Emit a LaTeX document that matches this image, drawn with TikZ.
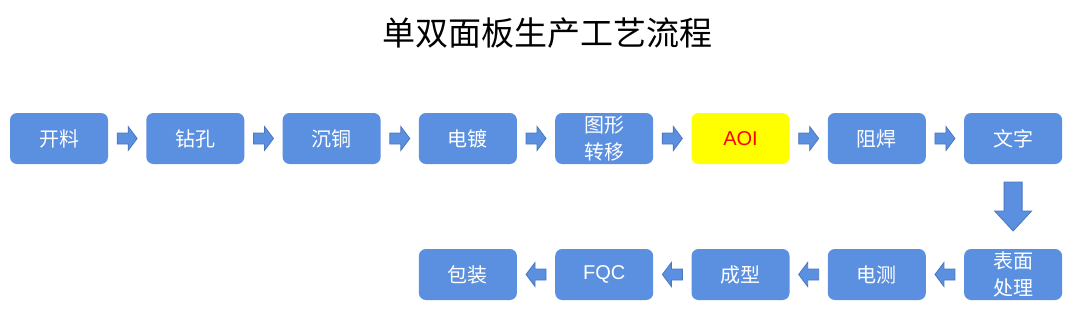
\documentclass[tikz,border=0pt]{standalone}
\usepackage{fontspec}
\setmainfont{Liberation Sans}
\newfontfamily\cjk{Noto Sans CJK SC}
\usetikzlibrary{calc}
\definecolor{boxblue}{HTML}{5B8FDF}
\definecolor{arrowline}{HTML}{4A78C2}
\definecolor{aoiyellow}{HTML}{FFFF00}
\tikzset{
  procbox/.style={draw=none, fill=boxblue, rounded corners=7pt, minimum width=98pt, minimum height=51pt, inner sep=0pt, text=white, align=center, font=\cjk\fontsize{20}{27}\selectfont},
  aoibox/.style={procbox, fill=aoiyellow, text=red, font=\fontsize{20}{27}\selectfont},
  latinbox/.style={procbox, font=\fontsize{20}{27}\selectfont},
  blockarrow/.style={fill=boxblue, draw=arrowline, line width=0.8pt, line join=miter}
}
\begin{document}
\begin{tikzpicture}[x=1pt,y=-1pt]
\useasboundingbox (0,0) rectangle (1080,319);
\node[font=\cjk\fontsize{33}{38}\selectfont] (title) at (547,33) {单双面板生产工艺流程};
% row 1
\node[procbox] (n1) at (59.0,138.5) {开料};
\node[procbox] (n2) at (195.3,138.5) {钻孔};
\node[procbox] (n3) at (331.6,138.5) {沉铜};
\node[procbox] (n4) at (467.9,138.5) {电镀};
\node[procbox] (n5) at (604.2,138.5) {图形\\转移};
\node[aoibox] (n6) at (740.5,138.5) {AOI};
\node[procbox] (n7) at (876.8,138.5) {阻焊};
\node[procbox] (n8) at (1013.1,138.5) {文字};
% row 2
\node[procbox] (m1) at (1013.1,274.5) {表面\\处理};
\node[procbox] (m2) at (876.8,274.5) {电测};
\node[procbox] (m3) at (740.5,274.5) {成型};
\node[latinbox] (m4) at (604.2,274.5) {FQC};
\node[procbox] (m5) at (467.9,274.5) {包装};
% right arrows
\foreach \a/\b in {n1/n2,n2/n3,n3/n4,n4/n5,n5/n6,n6/n7,n7/n8}{
  \draw[blockarrow] ($(\a.east)!0.5!(\b.west)$) ++(-10,-5.5) -- ++(11,0) -- ++(0,-6.5) -- ++(9,12) -- ++(-9,12) -- ++(0,-6.5) -- ++(-11,0) -- cycle;
}
% left arrows
\foreach \a/\b in {m1/m2,m2/m3,m3/m4,m4/m5}{
  \draw[blockarrow] ($(\a.west)!0.5!(\b.east)$) ++(10,-5.5) -- ++(-11,0) -- ++(0,-6.5) -- ++(-9,12) -- ++(9,12) -- ++(0,-6.5) -- ++(11,0) -- cycle;
}
% down arrow
\draw[blockarrow] ($(n8.south)!0.5!(m1.north)$) ++(-9,-24.5) -- ++(18,0) -- ++(0,29) -- ++(9.5,0) -- ++(-18.5,20) -- ++(-18.5,-20) -- ++(9.5,0) -- cycle;
\end{tikzpicture}
\end{document}
